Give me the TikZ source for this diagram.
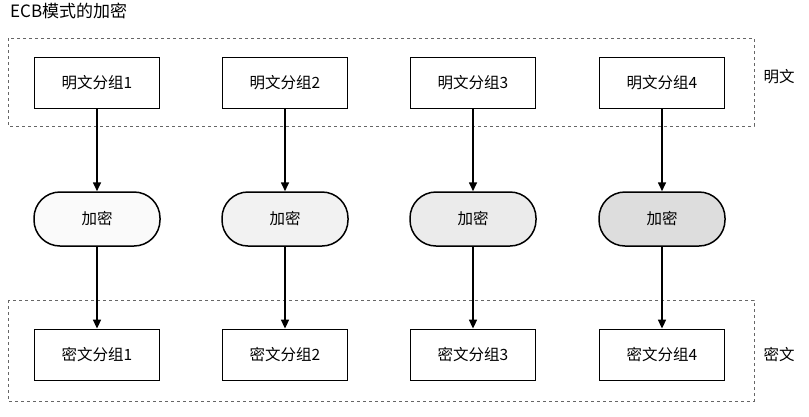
\documentclass[tikz,border=0pt]{standalone}
\usepackage{fontspec}
\setmainfont{Noto Sans CJK SC}
\usetikzlibrary{arrows.meta}
\begin{document}
\begin{tikzpicture}[x=1pt,y=-1pt,
  blk/.style={draw,line width=1.8pt,minimum width=125pt,minimum height=51pt,inner sep=0pt,font=\fontsize{15.5}{17}\selectfont},
  enc/.style={draw,line width=1.5pt,rounded corners=26pt,minimum width=126pt,minimum height=54pt,inner sep=0pt,font=\fontsize{15.5}{17}\selectfont},
  grp/.style={draw,dashed,line width=0.6pt,gray!80!black},
  arr/.style={-{Triangle[length=9pt,width=8pt]},line width=1.6pt},
  lbl/.style={font=\fontsize{15.5}{17}\selectfont,inner sep=0pt}]
\useasboundingbox (0,0) rectangle (809,416);
\node[lbl,anchor=west,font=\fontsize{17}{19}\selectfont] (title) at (10,11) {ECB模式的加密};
\draw[grp] (8,38) rectangle (754,126);
\draw[grp] (8,300) rectangle (754,401);
\node[lbl] (pl) at (779,77) {明文};
\node[lbl] (cl) at (779,355) {密文};
\foreach \i/\x/\c in {1/97/gray!4,2/285/gray!10,3/473/gray!16,4/662/gray!27}{
  \node[blk] (p\i) at (\x,83) {明文分组\i};
  \node[enc,fill=\c] (e\i) at (\x,219) {加密};
  \node[blk] (c\i) at (\x,355) {密文分组\i};
  \draw[arr] (p\i) -- (e\i);
  \draw[arr] (e\i) -- (c\i);
}
\end{tikzpicture}
\end{document}
